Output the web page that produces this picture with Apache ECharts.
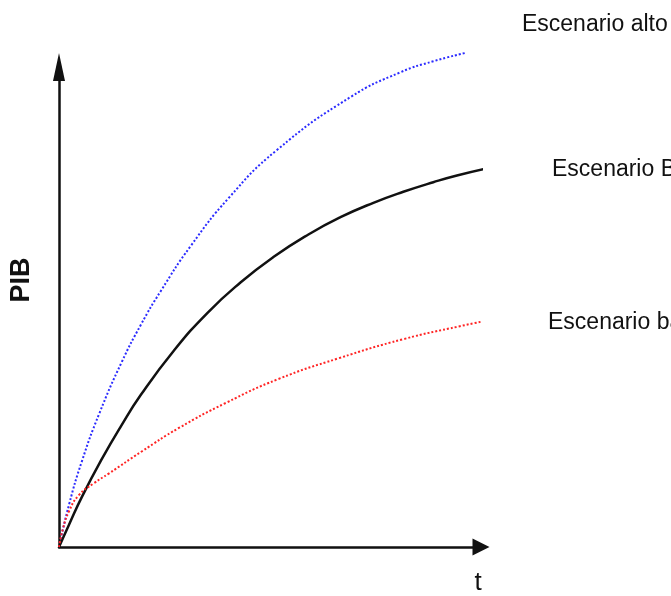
<!DOCTYPE html>
<html>
<head>
<meta charset="utf-8">
<script src="https://cdn.jsdelivr.net/npm/echarts@6/dist/echarts.min.js"></script>
<style>
    html, body { margin: 0; padding: 0; background: #fff; }
    #chart { width: 671px; height: 596px; }
</style>
</head>
<body>
<div id="chart"></div>
<script>
// curves (t and PIB in arbitrary units, 0..100 along each axis)
const altoT = [0, 2.4, 5.4, 9.5, 14.9, 19.4, 24.1, 31.2, 40.2, 51.5, 69.0, 80.9, 88.7, 96.2];
const altoPIB = [0, 8.9, 17.8, 27.7, 38.6, 46.3, 53.3, 62.7, 72.7, 82.6, 93.7, 98.9, 101.2, 102.9];

const baseT = [0, 2.4, 5.4, 10.2, 14.7, 19.4, 27.2, 35.2, 43.0, 50.8, 59.1, 66.7, 74.5, 81.6, 88.7, 94.3, 102.6];
const basePIB = [0, 4.7, 10.4, 18.4, 25.2, 31.7, 40.9, 48.8, 55.1, 60.4, 65.1, 68.7, 71.7, 74.0, 76.0, 77.4, 79.1];

const bajoT = [0, 0.9, 2.4, 4.7, 8.3, 11.8, 19.6, 28.4, 39.5, 52.0, 66.2, 81.6, 95.0, 102.8];
const bajoPIB = [0, 3.7, 7.5, 10.8, 13.3, 15.3, 19.9, 24.8, 30.0, 35.0, 39.3, 43.3, 46.0, 47.4];

const seriesNames = ['Escenario alto', 'Escenario Base', 'Escenario bajo'];

function pairs(xs, ys) {
    return xs.map(function (x, i) { return [x, ys[i]]; });
}

const labelFont = "'Liberation Sans', Arial, sans-serif";

function endLabel(distance, offset) {
    return {
        show: true,
        formatter: '{a}',
        distance: distance,
        offset: offset,
        color: '#111',
        fontFamily: labelFont,
        fontSize: 23
    };
}

let chart = echarts.init(document.getElementById('chart'), null, { renderer: 'canvas' });

chart.setOption({
    animation: false,
    grid: { left: 58, right: 190, top: 67, bottom: 46 },
    xAxis: {
        type: 'value',
        min: 0,
        max: 100,
        name: 't',
        nameLocation: 'end',
        nameGap: -3,
        nameTextStyle: {
            color: '#111',
            fontFamily: labelFont,
            fontSize: 26,
            align: 'center',
            verticalAlign: 'top',
            padding: [23, 0, 0, 0]
        },
        axisLine: {
            symbol: ['none', 'triangle'],
            symbolSize: [17, 17],
            lineStyle: { color: '#111', width: 2.5 }
        },
        axisTick: { show: false },
        axisLabel: { show: false },
        splitLine: { show: false }
    },
    yAxis: {
        type: 'value',
        min: 0,
        max: 100,
        name: 'PIB',
        nameLocation: 'middle',
        nameRotate: 90,
        nameGap: 24,
        nameTextStyle: {
            color: '#111',
            fontFamily: labelFont,
            fontWeight: 'bold',
            fontSize: 27,
            padding: [0, 0, 0, 54]
        },
        axisLine: {
            symbol: ['none', 'triangle'],
            symbolSize: [12, 28],
            lineStyle: { color: '#111', width: 2.5 }
        },
        axisTick: { show: false },
        axisLabel: { show: false },
        splitLine: { show: false }
    },
    series: [
        {
            name: seriesNames[0],
            type: 'line',
            smooth: 0.5,
            clip: false,
            showSymbol: false,
            data: pairs(altoT, altoPIB),
            lineStyle: { color: '#2b2bff', width: 2, type: 'dotted' },
            endLabel: endLabel(57, [0, -28])
        },
        {
            name: seriesNames[1],
            type: 'line',
            smooth: 0.5,
            clip: false,
            showSymbol: false,
            data: pairs(baseT, basePIB),
            lineStyle: { color: '#111', width: 2.5 },
            endLabel: endLabel(69, [0, 0])
        },
        {
            name: seriesNames[2],
            type: 'line',
            smooth: 0.5,
            clip: false,
            showSymbol: false,
            data: pairs(bajoT, bajoPIB),
            lineStyle: { color: '#ff2424', width: 2, type: 'dotted' },
            endLabel: endLabel(66, [0, 1])
        }
    ]
});
</script>
</body>
</html>
